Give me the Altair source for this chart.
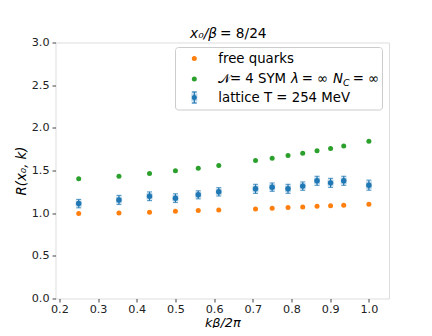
import altair as alt
import pandas as pd

# ---- data ----
k_vals = [0.25, 0.354, 0.433, 0.5, 0.559, 0.612, 0.707, 0.75, 0.791, 0.829, 0.866, 0.901, 0.935, 1.0]
free_quarks = [0.995, 1.003, 1.01, 1.022, 1.03, 1.038, 1.05, 1.057, 1.065, 1.073, 1.081, 1.086, 1.094, 1.105]
sym_vals = [1.402, 1.432, 1.464, 1.496, 1.527, 1.558, 1.617, 1.645, 1.676, 1.703, 1.73, 1.758, 1.787, 1.842]
lattice = [1.112, 1.155, 1.198, 1.176, 1.215, 1.25, 1.285, 1.305, 1.285, 1.317, 1.379, 1.355, 1.379, 1.328]
lattice_err = [0.049, 0.053, 0.051, 0.051, 0.047, 0.049, 0.053, 0.049, 0.053, 0.049, 0.053, 0.053, 0.053, 0.059]
x_ticks = [0.2, 0.3, 0.4, 0.5, 0.6, 0.7, 0.8, 0.9, 1.0]
y_ticks = [0.0, 0.5, 1.0, 1.5, 2.0, 2.5, 3.0]

ORANGE = "#ff7f0e"
GREEN = "#2ca02c"
BLUE = "#1f77b4"
FONT = "DejaVu Sans"
LEG = 13.3

df = pd.DataFrame({
    "k": k_vals,
    "free": free_quarks,
    "sym": sym_vals,
    "lat": lattice,
    "lo": [v - e for v, e in zip(lattice, lattice_err)],
    "hi": [v + e for v, e in zip(lattice, lattice_err)],
    "hlo": [v - 0.75 * e for v, e in zip(lattice, lattice_err)],
    "hhi": [v + 0.75 * e for v, e in zip(lattice, lattice_err)],
})

W, H = 333.5, 256

xscale = alt.Scale(domain=[0.19, 1.052], nice=False, zero=False)
yscale = alt.Scale(domain=[0, 3], nice=False)

xaxis = alt.Axis(values=x_ticks, format=".1f", title="kβ/2π", titleFontStyle="italic",
                 titleFontWeight="normal", titleFont=FONT, titleFontSize=12.8, titleColor="#000",
                 titleBaseline="alphabetic", titleY=27.5,
                 labelFont=FONT, labelFontSize=11.2, labelColor="#222", grid=False, domain=False,
                 tickColor="#444", tickSize=3.5, labelPadding=1)
yaxis = alt.Axis(values=y_ticks, format=".1f", title="R(x₀, k)", titleFontStyle="italic",
                 titleFontWeight="normal", titleFont=FONT, titleFontSize=LEG, titleColor="#000",
                 labelFont=FONT, labelFontSize=11.2, labelColor="#222", grid=False, domain=False,
                 tickColor="#444", tickSize=3.5, labelPadding=3, titlePadding=3)

base = alt.Chart(df)

free_pts = base.mark_circle(color=ORANGE, size=25, opacity=1).encode(
    x=alt.X("k:Q", scale=xscale, axis=xaxis),
    y=alt.Y("free:Q", scale=yscale, axis=yaxis),
)
sym_pts = base.mark_circle(color=GREEN, size=25, opacity=1).encode(
    x=alt.X("k:Q", scale=xscale), y=alt.Y("sym:Q", scale=yscale))
halo = base.mark_rule(color=BLUE, strokeWidth=6, opacity=0.3).encode(
    x=alt.X("k:Q", scale=xscale), y=alt.Y("hlo:Q", scale=yscale), y2="hhi:Q")
bars = base.mark_rule(color=BLUE, strokeWidth=1.2).encode(
    x=alt.X("k:Q", scale=xscale), y=alt.Y("lo:Q", scale=yscale), y2="hi:Q")
cap_lo = base.mark_tick(color=BLUE, orient="horizontal", size=5, thickness=1.2).encode(
    x=alt.X("k:Q", scale=xscale), y=alt.Y("lo:Q", scale=yscale))
cap_hi = base.mark_tick(color=BLUE, orient="horizontal", size=5, thickness=1.2).encode(
    x=alt.X("k:Q", scale=xscale), y=alt.Y("hi:Q", scale=yscale))
lat_pts = base.mark_circle(color=BLUE, size=30, opacity=1).encode(
    x=alt.X("k:Q", scale=xscale), y=alt.Y("lat:Q", scale=yscale))


def txt(s, x, y, size=LEG, style="normal", align="left", baseline="middle"):
    return alt.Chart(pd.DataFrame({"t": [s]})).mark_text(
        font=FONT, fontSize=size, fontStyle=style, align=align, baseline=baseline, color="#000"
    ).encode(text="t:N", x=alt.value(x), y=alt.value(y))


# legend
leg_box = alt.Chart(pd.DataFrame({"a": [0]})).mark_rect(
    fill="white", fillOpacity=0.8, stroke="#cccccc", strokeWidth=1, cornerRadius=3
).encode(x=alt.value(120), x2=alt.value(327), y=alt.value(5), y2=alt.value(67.5))

leg_mk = alt.Chart(pd.DataFrame({"c": [ORANGE, GREEN, BLUE], "yy": [16, 36.5, 55]})).mark_circle(
    size=25, opacity=1).encode(x=alt.value(138.8), y=alt.Y("yy:Q", scale=None),
                               color=alt.Color("c:N", scale=None))
leg_bar = alt.Chart(pd.DataFrame({"a": [0]})).mark_rule(color=BLUE, strokeWidth=1.2).encode(
    x=alt.value(138.8), y=alt.value(49.5), y2=alt.value(60.5))
leg_halo = alt.Chart(pd.DataFrame({"a": [0]})).mark_rule(color=BLUE, strokeWidth=6, opacity=0.3).encode(
    x=alt.value(138.8), y=alt.value(51), y2=alt.value(59))
leg_cap1 = alt.Chart(pd.DataFrame({"a": [0]})).mark_rule(color=BLUE, strokeWidth=1.2).encode(
    x=alt.value(136.3), x2=alt.value(141.3), y=alt.value(49.5))
leg_cap2 = alt.Chart(pd.DataFrame({"a": [0]})).mark_rule(color=BLUE, strokeWidth=1.2).encode(
    x=alt.value(136.3), x2=alt.value(141.3), y=alt.value(60.5))

texts = [
    txt("free quarks", 162.8, 16),
    txt("𝒩", 162.8, 36.5),
    txt("= 4 SYM", 174.5, 36.5),
    txt("λ", 235.5, 36.5, style="italic"),
    txt("= ∞", 246.2, 36.5),
    txt("N", 277.5, 36.5, style="italic"),
    txt("C", 287.6, 40, size=9.5, style="italic"),
    txt("= ∞", 297.2, 36.5),
    txt("lattice T = 254 MeV", 162.8, 55),
    # title
    txt("x₀/β", 161.5, -4.2, size=13.7, style="italic", align="right", baseline="alphabetic"),
    txt("= 8/24", 164.5, -4.2, size=13.7, baseline="alphabetic"),
]

chart = alt.layer(
    free_pts, sym_pts, halo, bars, cap_lo, cap_hi, lat_pts,
    leg_box, leg_halo, leg_bar, leg_cap1, leg_cap2, leg_mk, *texts
).properties(
    width=W, height=H,
    autosize=alt.AutoSizeParams(type="none"),
    padding={"left": 47.5, "top": 34.5, "right": 35, "bottom": 29.5},
).configure_view(stroke="#aaaaaa", strokeWidth=1.5).configure(background="white")

chart.save("out.html", embed_options={"renderer": "svg", "actions": False})
